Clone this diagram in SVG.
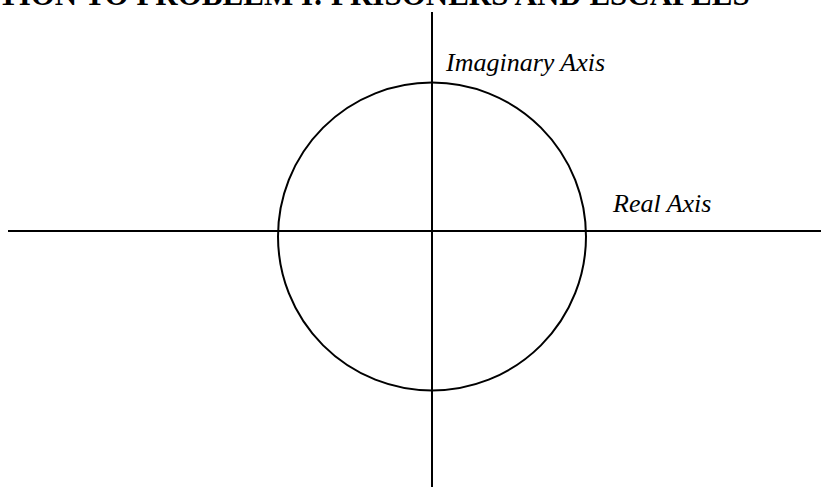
<svg xmlns="http://www.w3.org/2000/svg" width="821" height="487" viewBox="0 0 821 487">
<style>
.ax{stroke:#000;stroke-width:2;fill:none}
.lbl{font-family:"Liberation Serif",serif;font-style:italic;font-size:26px;fill:#000}
.ttl{font-family:"Liberation Serif",serif;font-weight:bold;font-size:31px;fill:#000}
</style>
<rect width="821" height="487" fill="#fff"/>
<text class="ttl" x="-2" y="5">TION TO PROBLEM I: PRISONERS AND ESCAPEES</text>
<g id="connectors">
<line class="ax" x1="8" y1="231" x2="821" y2="231"/>
<line class="ax" x1="432" y1="12" x2="432" y2="487"/>
</g>
<g id="circle"><circle class="ax" cx="432" cy="236.5" r="154"/></g>
<g id="imag"><text class="lbl" x="446" y="71">Imaginary Axis</text></g>
<g id="real"><text class="lbl" x="613" y="212">Real Axis</text></g>
</svg>
